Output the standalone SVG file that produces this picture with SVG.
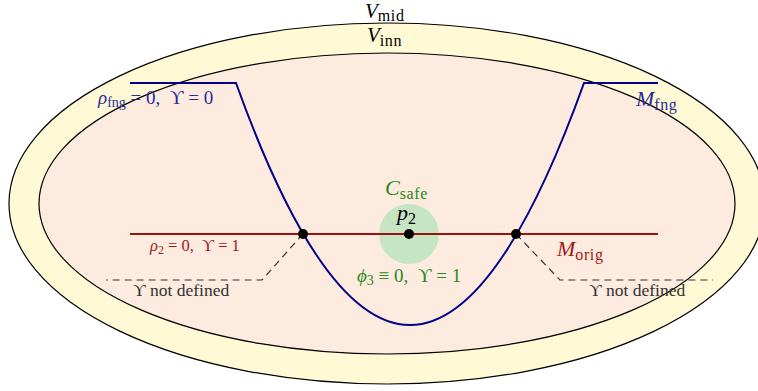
<svg xmlns="http://www.w3.org/2000/svg" width="758" height="391" viewBox="0 0 758 391" font-family="'Liberation Serif', 'DejaVu Serif', serif">
<style>
text{font-family:'Liberation Serif','DejaVu Serif',serif;}
.it{font-style:italic;}
.s{font-size:16px;letter-spacing:0.6px;}
.blue{fill:#2a2a9a;}
.red{fill:#a01818;}
.green{fill:#2a8a20;}
.gray{fill:#333;}
.dash{fill:none;stroke:#333;stroke-width:1.2;stroke-dasharray:7,5;}
</style>
<rect width="758" height="391" fill="#fff"/>
<g id="V_mid">
<ellipse cx="387" cy="203.5" rx="378" ry="180.5" fill="#fff9d5" stroke="#000" stroke-width="1.2"/>
<text x="365" y="18" font-size="21"><tspan class="it">V</tspan><tspan class="s" dy="3">mid</tspan></text>
</g>
<g id="V_inn">
<ellipse cx="387" cy="203.5" rx="348" ry="150.5" fill="#fcebde" stroke="#000" stroke-width="1.2"/>
<text x="367" y="42" font-size="21"><tspan class="it">V</tspan><tspan class="s" dy="4">inn</tspan></text>
</g>
<g id="C_safe">
<circle cx="409" cy="234" r="30" fill="#c6e5c3"/>
<text x="385" y="195" font-size="22" class="green"><tspan class="it">C</tspan><tspan class="s" dy="4">safe</tspan></text>
</g>
<g id="connectors">
<path d="M130,234 H658" stroke="#9b1010" stroke-width="2" fill="none"/>
<path d="M130,83 H236 Q410,567 584,83 H658" stroke="#00008b" stroke-width="2" fill="none"/>
<path class="dash" d="M303,234 L262,280 H106"/>
<path class="dash" d="M516,234 L560,280 H713"/>
</g>
<g id="M_fng">
<text x="636" y="106" font-size="22" class="blue"><tspan class="it">M</tspan><tspan class="s" dy="4">fng</tspan></text>
<text x="98" y="104" font-size="19" class="blue"><tspan class="it">ρ</tspan><tspan font-size="14" dy="3">fng</tspan><tspan dy="-3" xml:space="preserve"> = 0,  ϒ = 0</tspan></text>
</g>
<g id="M_orig">
<text x="557" y="256" font-size="22" class="red"><tspan class="it">M</tspan><tspan class="s" dy="4">orig</tspan></text>
<text x="150" y="251" font-size="16.5" class="red"><tspan class="it">ρ</tspan><tspan font-size="12" dy="3">2</tspan><tspan dy="-3" xml:space="preserve"> = 0,  ϒ = 1</tspan></text>
</g>
<g id="p2">
<circle cx="409" cy="234" r="5" fill="#000"/>
<text x="397" y="220" font-size="22"><tspan class="it">p</tspan><tspan class="s" dy="4">2</tspan></text>
<text x="357" y="282" font-size="19" class="green"><tspan class="it">ϕ</tspan><tspan font-size="14" dy="3">3</tspan><tspan dy="-3" xml:space="preserve"> ≡ 0,  ϒ = 1</tspan></text>
</g>
<g id="x_left">
<circle cx="303" cy="234" r="5" fill="#000"/>
<text x="133" y="296" font-size="17.5" class="gray">ϒ not defined</text>
</g>
<g id="x_right">
<circle cx="516" cy="234" r="5" fill="#000"/>
<text x="589" y="296" font-size="17.5" class="gray">ϒ not defined</text>
</g>
</svg>
